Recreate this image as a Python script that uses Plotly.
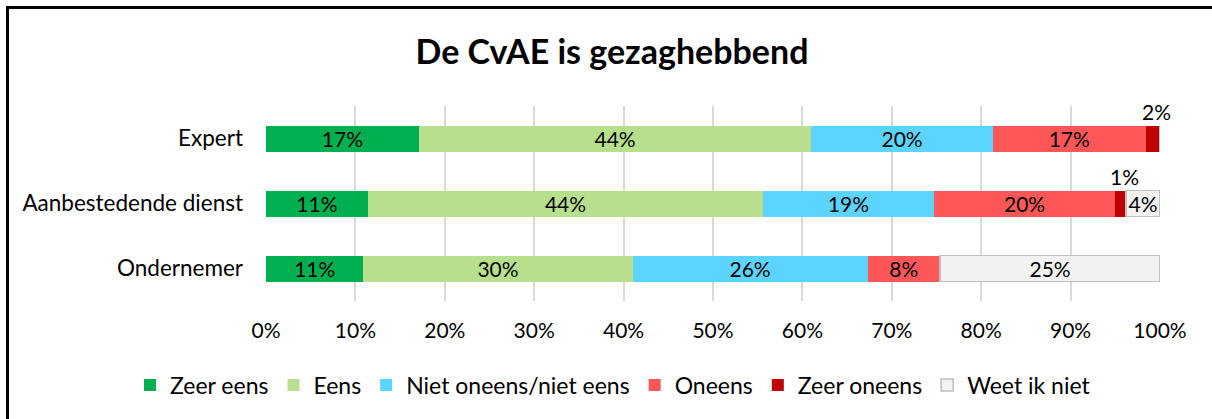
import plotly.graph_objects as go

categories = ["Expert", "Aanbestedende dienst", "Ondernemer"]
series_names = ["Zeer eens", "Eens", "Niet oneens/niet eens", "Oneens", "Zeer oneens", "Weet ik niet"]
zeer_eens = [17.1, 11.4, 10.9]
eens = [43.9, 44.2, 30.1]
niet_oneens = [20.3, 19.1, 26.3]
oneens = [17.1, 20.3, 8.1]
zeer_oneens = [1.6, 1.2, 0.0]
weet_niet = [0.0, 3.8, 24.6]
tick_vals = [0, 10, 20, 30, 40, 50, 60, 70, 80, 90, 100]
tick_text = [f"{v}%" for v in tick_vals]

series = [zeer_eens, eens, niet_oneens, oneens, zeer_oneens, weet_niet]
colors = ["#00B050", "#B8E08C", "#5BD4FF", "#FF5757", "#C00000", "#F2F2F2"]
lines = [None, None, None, None, None, "#BFBFBF"]

FONT = "Lato"
W, H = 1212, 419
L, R, T, B = 266, 52, 106, 118
PW, PH = W - L - R, H - T - B
px2x = lambda px: (px - L) / PW
py2y = lambda py: (H - B - py) / PH

fig = go.Figure()
annotations = []
cum = [0.0] * len(categories)
for name, vals, col, lc in zip(series_names, series, colors, lines):
    texts = []
    for i, v in enumerate(vals):
        lab = f"{round(v):d}%"
        if v <= 0:
            texts.append("")
        elif v < 3:
            texts.append("")
            annotations.append(dict(x=cum[i] + v / 2, y=categories[i], xref="x", yref="y",
                                    text=lab, showarrow=False, yshift=27, xshift=4,
                                    font=dict(family=FONT, size=21, color="#000000")))
        else:
            texts.append(lab)
        cum[i] += v
    fig.add_trace(go.Bar(
        name=name, y=categories, x=vals, orientation="h",
        marker=dict(color=col, line=dict(color=lc if lc else col, width=1.5 if lc else 0)),
        text=texts, textposition="inside", insidetextanchor="middle",
        constraintext="none", textangle=0,
        textfont=dict(family=FONT, size=21, color="#000000"),
        hoverinfo="skip",
    ))

# chart frame: only the left and top edges fall inside the picture
fig.add_shape(type="rect", xref="paper", yref="paper", layer="above",
              x0=px2x(7.5), x1=px2x(W + 40), y0=py2y(7.5), y1=py2y(H + 40),
              line=dict(color="#000000", width=3), fillcolor="rgba(0,0,0,0)")

fig.update_layout(
    width=W, height=H,
    margin=dict(l=L, r=R, t=T, b=B, pad=0),
    barmode="stack", bargap=0.6,
    plot_bgcolor="#FFFFFF", paper_bgcolor="#FFFFFF",
    title=dict(text="<b>De CvAE is gezaghebbend</b>", x=612 / W, xref="container", xanchor="center",
               y=1 - 52 / H, yref="container", yanchor="middle",
               font=dict(family=FONT, size=34, color="#000000")),
    legend=dict(orientation="h", xref="paper", yref="paper", x=px2x(130), xanchor="left",
                y=py2y(385), yanchor="middle", traceorder="normal",
                font=dict(family=FONT, size=23, color="#000000"), itemwidth=30),
    annotations=annotations,
    showlegend=True,
)
fig.update_xaxes(range=[0, 100], tickvals=tick_vals, ticktext=tick_text,
                 showgrid=True, gridcolor="#D9D9D9", gridwidth=1.5,
                 zeroline=False, showline=False, ticks="", fixedrange=True, automargin=False,
                 tickfont=dict(family=FONT, size=21, color="#000000"),
                 ticklabelstandoff=15)
fig.update_yaxes(categoryorder="array", categoryarray=categories, autorange="reversed",
                 showgrid=False, zeroline=False, showline=False, ticks="", fixedrange=True,
                 automargin=False,
                 tickfont=dict(family=FONT, size=22.5, color="#000000"),
                 ticklabelstandoff=22)

fig.write_html("out.html", config={"displayModeBar": False},
               post_script=("document.body.style.margin='0';"
                            "document.body.style.overflow='hidden';"
                            "document.documentElement.style.overflow='hidden';"))
